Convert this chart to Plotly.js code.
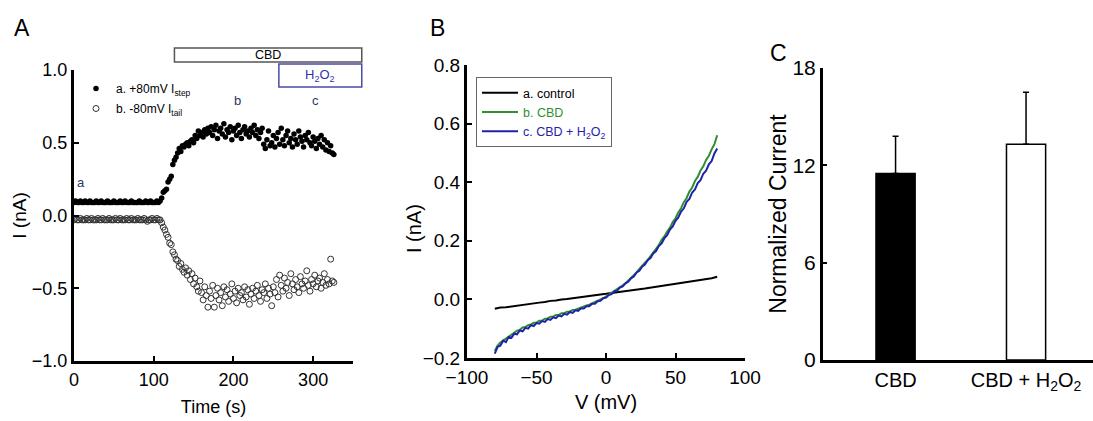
<!DOCTYPE html>
<html><head><meta charset="utf-8">
<script src="https://cdn.plot.ly/plotly-3.0.1.min.js"></script>
<style>html,body{margin:0;padding:0;background:#fff}#chart{width:1093px;height:421px}</style>
</head><body><div id="chart"></div>
<script>
const FONT = 'Liberation Sans, Arial, Helvetica, sans-serif';
const W = 1093, H = 421;

// ---------- Panel A: time course ----------
const sampleIntervalS = 2;
const stepCurrentA = [
 0.09,0.10,0.09,0.09,0.10,0.09,0.09,0.10,0.09,0.09,
 0.10,0.09,0.09,0.09,0.10,0.09,0.09,0.10,0.09,0.09,
 0.09,0.10,0.09,0.09,0.09,0.10,0.09,0.09,0.09,0.10,
 0.09,0.09,0.10,0.09,0.09,0.09,0.10,0.09,0.09,0.09,
 0.09,0.10,0.09,0.09,0.09,0.10,0.09,0.09,0.10,0.09,
 0.09,0.09,0.10,0.09,0.10,
 0.12,0.16,0.17,0.18,0.23,0.25,0.27,0.35,0.38,0.40,0.43,0.46,0.44,0.48,0.47,
 0.49,0.50,0.48,0.51,0.52,0.50,0.55,0.53,0.58,0.55,0.57,0.54,0.59,0.56,0.60,
 0.57,0.61,0.55,0.59,0.62,0.53,0.58,0.60,0.56,0.63,0.54,0.59,0.57,0.61,0.52,
 0.58,0.60,0.55,0.62,0.57,0.53,0.59,0.61,0.56,0.58,0.54,0.60,0.57,0.62,0.55,
 0.59,0.53,0.57,0.60,0.49,0.46,0.52,0.58,0.48,0.50,0.55,
 0.47,0.53,0.57,0.49,0.60,0.52,0.48,0.55,0.58,0.50,0.53,0.47,0.56,0.52,0.49,
 0.58,0.54,0.51,0.47,0.55,0.52,0.57,0.50,0.48,0.54,0.51,0.46,0.53,0.49,0.55,
 0.47,0.52,0.45,0.50,0.44,0.48,0.43,0.42
];
const tailCurrentA = [
 -0.03,-0.02,-0.03,-0.03,-0.02,-0.03,-0.03,-0.03,-0.02,-0.03,
 -0.03,-0.02,-0.03,-0.03,-0.03,-0.02,-0.03,-0.03,-0.02,-0.03,
 -0.03,-0.03,-0.02,-0.03,-0.03,-0.03,-0.02,-0.03,-0.03,-0.02,
 -0.03,-0.03,-0.03,-0.02,-0.03,-0.03,-0.02,-0.03,-0.03,-0.03,
 -0.02,-0.03,-0.03,-0.03,-0.02,-0.03,-0.04,-0.03,-0.03,-0.02,
 -0.03,-0.03,-0.02,-0.03,-0.03,
 -0.05,-0.08,-0.10,-0.13,-0.15,-0.19,-0.20,-0.25,-0.27,-0.30,-0.31,-0.35,-0.33,-0.37,-0.39,
 -0.36,-0.41,-0.38,-0.44,-0.40,-0.47,-0.43,-0.49,-0.52,-0.45,-0.53,-0.58,-0.49,-0.55,-0.63,
 -0.52,-0.57,-0.48,-0.63,-0.55,-0.50,-0.58,-0.53,-0.62,-0.49,-0.56,-0.51,-0.59,-0.54,-0.47,
 -0.57,-0.52,-0.60,-0.50,-0.55,-0.53,-0.58,-0.49,-0.56,-0.51,-0.61,-0.54,-0.50,-0.57,-0.52,
 -0.48,-0.55,-0.59,-0.51,-0.53,-0.47,-0.57,-0.50,-0.54,-0.62,-0.49,
 -0.53,-0.44,-0.56,-0.41,-0.48,-0.52,-0.43,-0.50,-0.46,-0.55,-0.40,-0.47,-0.51,-0.44,-0.49,
 -0.53,-0.42,-0.47,-0.50,-0.45,-0.38,-0.48,-0.52,-0.44,-0.47,-0.41,-0.49,-0.45,-0.43,-0.50,
 -0.46,-0.40,-0.48,-0.44,-0.47,-0.30,-0.45,-0.46
];
const timeStep = stepCurrentA.map((_, i) => i * sampleIntervalS);
const timeTail = tailCurrentA.map((_, i) => i * sampleIntervalS);
const cbdStartS = 126, h2o2StartS = 257, applicationEndS = 361;
const phaseLabels = ['a', 'b', 'c'];
const phaseLabelTimes = [9, 205, 303];
const phaseLabelCurrents = [0.23, 0.79, 0.79];
const legendNamesA = ['a. +80mV I<sub>step</sub>', 'b. -80mV I<sub>tail</sub>'];
const ticksAx = [0, 100, 200, 300];
const ticksAy = [-1, -0.5, 0, 0.5, 1];

// ---------- Panel B: I-V ramps ----------
function grid(start, stop, step) { const g = []; for (let v = start; v <= stop + 1e-9; v += step) g.push(v); return g; }
const controlVoltage = grid(-80, 80, 4);
const controlI = [
 -0.032,-0.028,-0.027,-0.024,-0.021,-0.019,-0.017,-0.013,-0.011,-0.009,
 -0.005,-0.004,0.000,0.001,0.004,0.007,0.009,0.012,0.014,0.017,
 0.019,0.022,0.025,0.027,0.030,0.032,0.035,0.037,0.040,0.043,
 0.045,0.048,0.050,0.054,0.056,0.059,0.062,0.065,0.068,0.072,
 0.077
];
const rampVoltage = grid(-80, 80, 2);
const cbdI = [
 -0.176,-0.158,-0.147,-0.140,-0.132,-0.127,-0.118,-0.114,-0.107,-0.104,
 -0.096,-0.094,-0.088,-0.086,-0.080,-0.079,-0.073,-0.072,-0.066,-0.065,
 -0.059,-0.059,-0.053,-0.053,-0.047,-0.047,-0.042,-0.041,-0.036,-0.035,
 -0.031,-0.029,-0.025,-0.021,-0.018,-0.013,-0.010,-0.005,0.000,0.004,
 0.010,0.015,0.022,0.027,0.034,0.040,0.048,0.055,0.064,0.072,
 0.083,0.092,0.104,0.113,0.125,0.135,0.148,0.159,0.174,0.185,
 0.203,0.215,0.232,0.245,0.264,0.277,0.297,0.311,0.332,0.346,
 0.368,0.382,0.404,0.418,0.440,0.454,0.476,0.490,0.512,0.530,
 0.560
];
const cbdH2O2I = [
 -0.185,-0.162,-0.158,-0.141,-0.146,-0.128,-0.131,-0.117,-0.119,-0.106,
 -0.109,-0.097,-0.100,-0.088,-0.091,-0.081,-0.083,-0.074,-0.077,-0.067,
 -0.070,-0.061,-0.064,-0.055,-0.058,-0.049,-0.052,-0.043,-0.046,-0.037,
 -0.039,-0.030,-0.031,-0.023,-0.023,-0.015,-0.015,-0.006,-0.005,0.004,
 0.006,0.015,0.018,0.027,0.030,0.040,0.044,0.055,0.060,0.072,
 0.078,0.092,0.098,0.112,0.119,0.134,0.141,0.157,0.165,0.182,
 0.191,0.209,0.219,0.238,0.249,0.268,0.280,0.300,0.311,0.333,
 0.343,0.365,0.375,0.397,0.407,0.429,0.439,0.461,0.472,0.498,
 0.515
];
const legendNamesB = ['a. control', 'b. CBD', 'c. CBD + H<sub>2</sub>O<sub>2</sub>'];
const ticksBx = [-100, -50, 0, 50, 100];
const ticksBy = [-0.2, 0, 0.2, 0.4, 0.6, 0.8];

// ---------- Panel C: bars ----------
const barCategories = ['CBD', 'CBD + H<sub>2</sub>O<sub>2</sub>'];
const barPositions = [0, 1];
const barMeans = [11.5, 13.3];
const barSEM = [2.3, 3.2];
const ticksCy = [0, 6, 12, 18];

// ---------- layout geometry (pixel anchors of each panel's axis ends) ----------
function panel(px, xr, yr) {
  return {px, xr, yr, xdom: [px.l / W, px.r / W], ydom: [1 - px.b / H, 1 - px.t / H]};
}
const pA = panel({l: 74, r: 353, t: 70, b: 361}, [0, 350], [-1, 1]);
const pB = panel({l: 467, r: 745, t: 65, b: 358}, [-100, 100], [-0.2, 0.8]);
const pC = panel({l: 823, r: 1093, t: 68, b: 360}, [-0.556, 1.513], [0, 18]);
const toPaperA = t => pA.xdom[0] + (t - pA.xr[0]) / (pA.xr[1] - pA.xr[0]) * (pA.xdom[1] - pA.xdom[0]);

const GREEN = '#2f8f2f', BLUE = '#1f22a8', NAVY = '#2b3566';

const traces = [
  {x: timeStep, y: stepCurrentA, type: 'scatter', mode: 'markers', name: legendNamesA[0],
   marker: {symbol: 'circle', size: 5.5, color: '#000'}, xaxis: 'x', yaxis: 'y', legend: 'legend', legendgroup: 'a1'},
  {x: timeTail, y: tailCurrentA, type: 'scatter', mode: 'markers', name: legendNamesA[1],
   marker: {symbol: 'circle-open', size: 6, color: '#333', line: {width: 1}}, xaxis: 'x', yaxis: 'y', legend: 'legend', legendgroup: 'a2'},
  {x: controlVoltage, y: controlI, type: 'scatter', mode: 'lines', name: legendNamesB[0],
   line: {color: '#000', width: 2}, xaxis: 'x2', yaxis: 'y2', legend: 'legend2'},
  {x: rampVoltage, y: cbdI, type: 'scatter', mode: 'lines', name: '<span style="color:' + GREEN + '">' + legendNamesB[1] + '</span>',
   line: {color: GREEN, width: 2}, xaxis: 'x2', yaxis: 'y2', legend: 'legend2'},
  {x: rampVoltage, y: cbdH2O2I, type: 'scatter', mode: 'lines', name: '<span style="color:' + BLUE + '">' + legendNamesB[2] + '</span>',
   line: {color: BLUE, width: 2}, xaxis: 'x2', yaxis: 'y2', legend: 'legend2'},
  {x: barPositions, y: barMeans, type: 'bar', width: 0.3, showlegend: false,
   marker: {color: ['#000', '#fff'], line: {color: '#000', width: 1.5}},
   error_y: {type: 'data', symmetric: false, array: barSEM, arrayminus: [0, 0], color: '#000', thickness: 1.5, width: 3},
   xaxis: 'x3', yaxis: 'y3'}
];

function ax(extra) {
  return Object.assign({showline: true, linecolor: '#000', linewidth: 3, ticks: 'inside', ticklen: 5, tickwidth: 2,
    tickcolor: '#000', showgrid: false, zeroline: false, mirror: false, fixedrange: true, layer: 'above traces',
    tickfont: {family: FONT, size: 18, color: '#000'}}, extra);
}

const shapes = [
  {type: 'rect', xref: 'paper', yref: 'paper', x0: toPaperA(cbdStartS), x1: toPaperA(applicationEndS),
   y0: 1 - 62 / H, y1: 1 - 48 / H, line: {color: '#555', width: 1.5}, fillcolor: '#fff'},
  {type: 'rect', xref: 'paper', yref: 'paper', x0: toPaperA(h2o2StartS), x1: toPaperA(applicationEndS),
   y0: 1 - 87 / H, y1: 1 - 64 / H, line: {color: '#4a4aa8', width: 1.5}, fillcolor: '#fff'}
];

const C = {xanchor: 'center', yanchor: 'middle', showarrow: false};
const layout = {
  width: W, height: H, autosize: false,
  margin: {l: 0, r: 0, t: 0, b: 0, pad: 0},
  paper_bgcolor: '#fff', plot_bgcolor: 'rgba(0,0,0,0)',
  font: {family: FONT, color: '#000'},
  xaxis: ax({domain: pA.xdom, anchor: 'y', range: pA.xr, tickvals: ticksAx,
    title: {text: 'Time (s)', font: {family: FONT, size: 18}, standoff: 12}}),
  yaxis: ax({domain: pA.ydom, anchor: 'x', range: pA.yr, tickvals: ticksAy, tickformat: '.1f',
    title: {text: 'I (nA)', font: {family: FONT, size: 19}, standoff: 1}}),
  xaxis2: ax({domain: pB.xdom, anchor: 'y2', range: pB.xr, tickvals: ticksBx,
    tickfont: {family: FONT, size: 19, color: '#000'},
    title: {text: 'V (mV)', font: {family: FONT, size: 20}, standoff: 9}}),
  yaxis2: ax({domain: pB.ydom, anchor: 'x2', range: pB.yr, tickvals: ticksBy, tickformat: '.1f',
    tickfont: {family: FONT, size: 19, color: '#000'}}),
  xaxis3: ax({domain: pC.xdom, anchor: 'y3', range: pC.xr, ticks: '',
    tickvals: barPositions, ticktext: barCategories, tickfont: {family: FONT, size: 20, color: '#000'}}),
  yaxis3: ax({domain: pC.ydom, anchor: 'x3', range: pC.yr, tickvals: ticksCy, ticklen: 4,
    tickfont: {family: FONT, size: 21, color: '#000'},
    title: {text: 'Normalized Current', font: {family: FONT, size: 23}, standoff: 0}}),
  legend: {x: 76 / W, y: 1 - 74 / H, xanchor: 'left', yanchor: 'top', bgcolor: 'rgba(0,0,0,0)',
    borderwidth: 0, font: {family: FONT, size: 12, color: '#000'}, tracegroupgap: 1, itemwidth: 30},
  legend2: {x: 476 / W, y: 1 - 77 / H, xanchor: 'left', yanchor: 'top', bgcolor: '#fff',
    bordercolor: '#666', borderwidth: 1, font: {family: FONT, size: 12.5, color: '#000'}, itemwidth: 36},
  shapes: shapes,
  annotations: [
    Object.assign({text: 'A', xref: 'paper', yref: 'paper', x: 21.5 / W, y: 1 - 28 / H, font: {family: FONT, size: 23}}, C),
    Object.assign({text: 'B', xref: 'paper', yref: 'paper', x: 437 / W, y: 1 - 28 / H, font: {family: FONT, size: 23}}, C),
    Object.assign({text: 'C', xref: 'paper', yref: 'paper', x: 779 / W, y: 1 - 53 / H, font: {family: FONT, size: 23}}, C),
    Object.assign({text: 'CBD', xref: 'paper', yref: 'paper', x: (toPaperA(cbdStartS) + toPaperA(applicationEndS)) / 2,
      y: 1 - 55 / H, font: {family: FONT, size: 12.5, color: '#000'}}, C),
    Object.assign({text: 'H<sub>2</sub>O<sub>2</sub>', xref: 'paper', yref: 'paper',
      x: (toPaperA(h2o2StartS) + toPaperA(applicationEndS)) / 2, y: 1 - 75 / H, font: {family: FONT, size: 13, color: '#3333aa'}}, C),
    Object.assign({text: 'I (nA)', xref: 'paper', yref: 'paper', x: 414 / W, y: 1 - 229 / H, textangle: -90,
      font: {family: FONT, size: 20, color: '#000'}}, C)
  ].concat(phaseLabels.map((t, i) => Object.assign({text: t, xref: 'x', yref: 'y', x: phaseLabelTimes[i], y: phaseLabelCurrents[i],
     font: {family: FONT, size: 13, color: NAVY}}, C)))
};

Plotly.newPlot('chart', traces, layout, {staticPlot: true, displayModeBar: false});
</script></body></html>
